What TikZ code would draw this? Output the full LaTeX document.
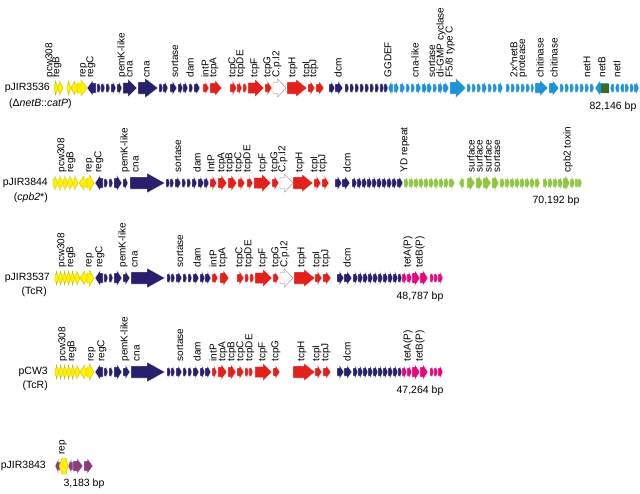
\documentclass[tikz,border=0pt]{standalone}
\usepackage{fontspec}
\setmainfont{Liberation Sans}
\definecolor{gyel}{HTML}{FFF100}
\definecolor{gyelD}{HTML}{C9BC00}
\definecolor{gnav}{HTML}{27206C}
\definecolor{gred}{HTML}{E2211C}
\definecolor{gblu}{HTML}{1E93D8}
\definecolor{ggrn}{HTML}{8DC63F}
\definecolor{gmag}{HTML}{E4087E}
\definecolor{gpur}{HTML}{8C3B7C}
\definecolor{gdgr}{HTML}{3D6B1F}
\tikzset{
 gene/.style={fill=\gc, draw=\gd, line width=0.35pt, line join=miter},
 glab/.style={rotate=90, anchor=west, inner sep=0.3pt, font=\fontsize{10}{10}\selectfont},
 plab/.style={font=\fontsize{10.5}{12}\selectfont, inner sep=0pt},
}
\newcommand\sz[3]{\def\bh{#1}\def\hh{#2}\def\hm{#3}}
\newcommand\gR[2]{\pgfmathsetmacro\hl{min(\hm,0.65*(#2-#1))}%
 \filldraw[gene] (#1,\ry-\bh) -- (#2-\hl,\ry-\bh) -- (#2-\hl,\ry-\hh) -- (#2,\ry) -- (#2-\hl,\ry+\hh) -- (#2-\hl,\ry+\bh) -- (#1,\ry+\bh) -- cycle;}
\newcommand\gL[2]{\pgfmathsetmacro\hl{min(\hm,0.65*(#2-#1))}%
 \filldraw[gene] (#2,\ry-\bh) -- (#1+\hl,\ry-\bh) -- (#1+\hl,\ry-\hh) -- (#1,\ry) -- (#1+\hl,\ry+\hh) -- (#1+\hl,\ry+\bh) -- (#2,\ry+\bh) -- cycle;}
\newcommand\gRs[1]{\foreach \a/\b in {#1}{\gR{\a}{\b}}}
\newcommand\gLs[1]{\foreach \a/\b in {#1}{\gL{\a}{\b}}}
\newcommand\labs[2]{\foreach \x/\t in {#2}{\node[glab] at (\x,#1) {\t};}}
\newcommand\col[2]{\def\gc{#1}\def\gd{#2}}
\begin{document}
\begin{tikzpicture}[x=1pt,y=-1pt]
\useasboundingbox (0,0) rectangle (640,493);
% ================= Row 1: pJIR3536 =================
\def\ry{88}
\node[plab, anchor=east] (p1) at (50,88) {pJIR3536};
\node[plab, anchor=west] (p1b) at (9,104) {(Δ\textit{netB}::\textit{catP})};
\col{gyel}{gyelD}\sz{4}{7}{5}
\gRs{54/58,58/63,67/71}\gLs{71/77}
\sz{5}{8}{6}\gRs{77/87}
\col{gnav}{white}
\sz{5}{8}{6}\gLs{87/96}
\sz{4}{7}{5}\gRs{97/101,101/105,106/110,111/116,117/122}
\sz{5.5}{9}{9}\gRs{123/137}
\sz{6}{10}{14}\gRs{138/158}
\sz{4}{7}{5}\gRs{159/163,163/168,170/177,178/183,183/188,189/193,194/200}
\col{gred}{white}
\gRs{203/209}
\sz{5}{8}{7}\gRs{210/222}
\sz{4}{7}{5}\gRs{230/237,237/242,243/247}
\sz{5.5}{9}{9}\gRs{248/264}
\sz{4}{7}{5}\gRs{265/272}
\col{white}{gray}\sz{5.5}{9}{9}\gRs{273/286}
\col{gred}{white}\sz{6}{9}{11}\gRs{287/307}
\sz{4}{7}{5}\gRs{308/315,316/324}
\col{gnav}{white}
\gRs{329/335,335/343,345/349,350/354,355/359,360/364,365/369,370/374,375/379,380/384,384/388}
\col{gblu}{white}
\gLs{388/393}
\gRs{394/399,400/405,406/410,411/415,416/421,422/427,427/432,433/437,438/443,443/449}
\sz{6}{10}{12}\gRs{450/466}
\sz{4}{7}{5}\gRs{467/471,472/476,477/481,482/487,488/492,493/497,498/503,506/510,511/515,516/520,521/525,526/530,531/534}
\sz{5}{8}{8}\gRs{535/548,549/559}
\sz{4}{7}{5}\gRs{560/564,565/569,570/574,575/579,580/584,585/589,590/594}
\sz{5}{8}{5}\gLs{595/609}
\fill[gdgr] (600.5,83.5) rectangle (608.6,92.5);
\sz{4}{7}{5}\gLs{610/614,615/619,620/624}\gRs{625/629,630/634,634/639}
\labs{78}{50/pcw308,57/regB,84/rep,91/regC,122/pemK-like,130/cna,147/cna,175/sortase,190/dam,205/intP,214/tcpA,233/tcpC,241/tcpDE,255/tcpF,268/tcpG,277/C.p.I2,293/tcpH,307/tcpI,314/tcpJ,338/dcm,388/GGDEF,415/cna-like,432/sortase,441/di-GMP cyclase,450/{F5/8 type C},514/2x\textasciicircum netB,523/protease,540/chitinase,554/chitinase,587/netH,602/netB,617/netI}
\node[plab] (bp1) at (613,107) {82,146 bp};
% ================= Row 2: pJIR3844 =================
\def\ry{183}
\node[plab, anchor=east] (p2) at (48,183) {pJIR3844};
\node[plab, anchor=east] (p2b) at (48,198) {(\textit{cpb2}*)};
\col{gyel}{gyelD}\sz{4}{7}{5}
\gRs{53/58,58/63,63/68,68/73,73/78}\gLs{79/87}
\sz{5}{8}{6}\gRs{87/94}
\col{gnav}{white}
\sz{5}{8}{6}\gLs{95/103}
\sz{4}{7}{5}\gRs{104/108,109/113}
\sz{5}{8}{6}\gRs{114/122}
\sz{4}{7}{5}\gRs{123/128}
\sz{6}{10}{18}\gRs{130/165}
\sz{4}{7}{5}\gRs{166/170,170/174,175/181,182/186,187/191,192/197,198/204,204/209}
\col{gred}{white}
\gRs{210/217}
\sz{5}{8}{7}\gRs{218/227,228/237}
\sz{4}{7}{5}\gRs{238/245,247/253}
\sz{5.5}{9}{9}\gRs{254/271}
\sz{4}{7}{5}\gRs{272/279}
\col{white}{gray}\sz{5.5}{9}{9}\gRs{280/293}
\col{gred}{white}\sz{6}{9}{11}\gRs{293/313}
\sz{4}{7}{5}\gRs{314/321,322/329}
\col{gnav}{white}
\gRs{335/342,342/350,352/357,357/362,362/367,367/372,372/377,377/382,382/387,387/392,392/397,397/403}
\col{ggrn}{white}
\gRs{404/409,409/414,414/419,419/424,424/429,429/434,434/439,439/444,444/449,449/455}
\gLs{459/464}
\sz{5}{8}{6}\gRs{467/475,476/483,483/491,492/499}
\sz{4}{7}{5}\gRs{500/505,505/510,510/515,515/520,520/525,525/530,530/535,535/540,543/548,548/553,553/558,558/563}
\sz{5}{8}{6}\gRs{563/570}
\sz{4}{7}{5}\gRs{570/575,575/579,578/582}
\labs{173}{62/pcw308,71/regB,90/rep,99/regC,125/pemK-like,136/cna,178/sortase,197/dam,211/IntP,222/tcpA,230/tcpB,239/tcpC,248/tcpDE,263/tcpF,275/tcpG,283/C.p.I2,300/tcpH,315/tcpI,323/tcpJ,347/dcm,405/YD repeat,471/surface,479/surface,488/surface,497/sortase,568/cpb2 toxin}
\node[plab] (bp2) at (556,201) {70,192 bp};
% ================= Row 3: pJIR3537 =================
\def\ry{278}
\node[plab, anchor=east] (p3) at (50,278) {pJIR3537};
\node[plab, anchor=east] (p3b) at (47,292) {(TcR)};
\col{gyel}{gyelD}\sz{4}{7}{5}
\gRs{55/59,59/63,63/67,67/71,71/75,75/80}\gLs{80/87}
\sz{5}{8}{6}\gRs{87/94}
\col{gnav}{white}
\sz{5}{8}{6}\gLs{95/103}
\sz{4}{7}{5}\gRs{104/108,109/113}
\sz{5}{8}{6}\gRs{114/122}
\sz{4}{7}{5}\gRs{123/130}
\sz{6}{10}{18}\gRs{131/165}
\sz{4}{7}{5}\gRs{167/171,171/175,176/182,183/187,188/192,193/199,200/205,205/211}
\col{gred}{white}
\gRs{212/218}
\sz{5}{8}{7}\gRs{220/229}
\sz{4}{7}{5}\gRs{237/244,245/249,250/254}
\sz{5.5}{9}{9}\gRs{255/272}
\sz{4}{7}{5}\gRs{273/279}
\col{white}{gray}\sz{5.5}{9}{9}\gRs{280/293}
\col{gred}{white}\sz{6}{9}{11}\gRs{294/315}
\sz{4}{7}{5}\gRs{315/322,323/331}
\col{gnav}{white}
\gRs{337/344,344/352,353/358,358/363,363/368,368/373,373/378,378/383,383/388,388/393,393/398,398/402}
\col{gmag}{white}
\gRs{402/407,407/412}
\sz{5}{8}{7}\gRs{412/420,420/428}
\sz{4}{7}{5}\gRs{430/434,434/438,438/443}
\labs{268}{62/pcw308,71/regB,90/rep,100/regC,123/pemK-like,135/cna,180/sortase,197/dam,213/intP,223/tcpA,240/tcpC,249/tcpDE,263/tcpF,276/tcpG,285/C.p.I2,302/tcpH,317/tcpI,326/tcpJ,347/dcm,408/tetA(P),420/tetB(P)}
\node[plab] (bp3) at (420,297) {48,787 bp};
% ================= Row 4: pCW3 =================
\def\ry{372}
\node[plab, anchor=east] (p4) at (48,372) {pCW3};
\node[plab, anchor=east] (p4b) at (48,386) {(TcR)};
\col{gyel}{gyelD}\sz{4}{7}{5}
\gRs{55/59,59/63,63/67,67/71,71/75,75/80}\gLs{80/87}
\sz{5}{8}{6}\gRs{87/94}
\col{gnav}{white}
\sz{5}{8}{6}\gLs{95/103}
\sz{4}{7}{5}\gRs{104/108,109/113}
\sz{5}{8}{6}\gRs{114/122}
\sz{4}{7}{5}\gRs{123/130}
\sz{6}{10}{18}\gRs{131/165}
\sz{4}{7}{5}\gRs{167/171,171/175,176/182,183/187,188/192,193/199,200/205,205/211}
\col{gred}{white}
\gRs{212/217}
\sz{5}{8}{7}\gRs{218/227,228/236}
\sz{4}{7}{5}\gRs{237/244,245/249,249/253}
\sz{5.5}{9}{9}\gRs{255/272}
\sz{4}{7}{5}\gRs{273/280}
\col{gred}{white}\sz{6}{9}{11}\gRs{293/315}
\sz{4}{7}{5}\gRs{315/322,323/331}
\col{gnav}{white}
\gRs{337/344,344/352,353/358,358/363,363/368,368/373,373/378,378/383,383/388,388/393,393/398,398/402}
\col{gmag}{white}
\gRs{402/407,407/412}
\sz{5}{8}{7}\gRs{412/420,420/428}
\sz{4}{7}{5}\gRs{430/434,434/438,438/443}
\labs{362}{63/pcw308,72/regB,92/rep,102/regC,125/pemK-like,137/cna,180/sortase,197/dam,213/intP,223/tcpA,232/tcpB,241/tcpC,250/tcpDE,263/tcpF,276/tcpG,302/tcpH,317/tcpI,326/tcpJ,347/dcm,408/tetA(P),420/tetB(P)}
\node[plab] (bp4) at (420,391) {47,264 bp};
% ================= Row 5: pJIR3843 =================
\def\ry{466}
\node[plab, anchor=east] (p5) at (46,466) {pJIR3843};
\col{gpur}{white}\sz{4}{7}{5}
\gLs{55/60}
\col{gyel}{gyelD}\sz{5}{8}{4}
\filldraw[gene] (59,466) -- (62,458) -- (66,458) -- (68,466) -- (66,474) -- (62,474) -- cycle;
\col{gpur}{white}\sz{4}{7}{5}
\gLs{68/73}
\sz{5}{8}{6}\gRs{73/83,84/93}
\labs{455}{63/rep}
\node[plab] (bp5) at (84,484) {3,183 bp};
\end{tikzpicture}
\end{document}
